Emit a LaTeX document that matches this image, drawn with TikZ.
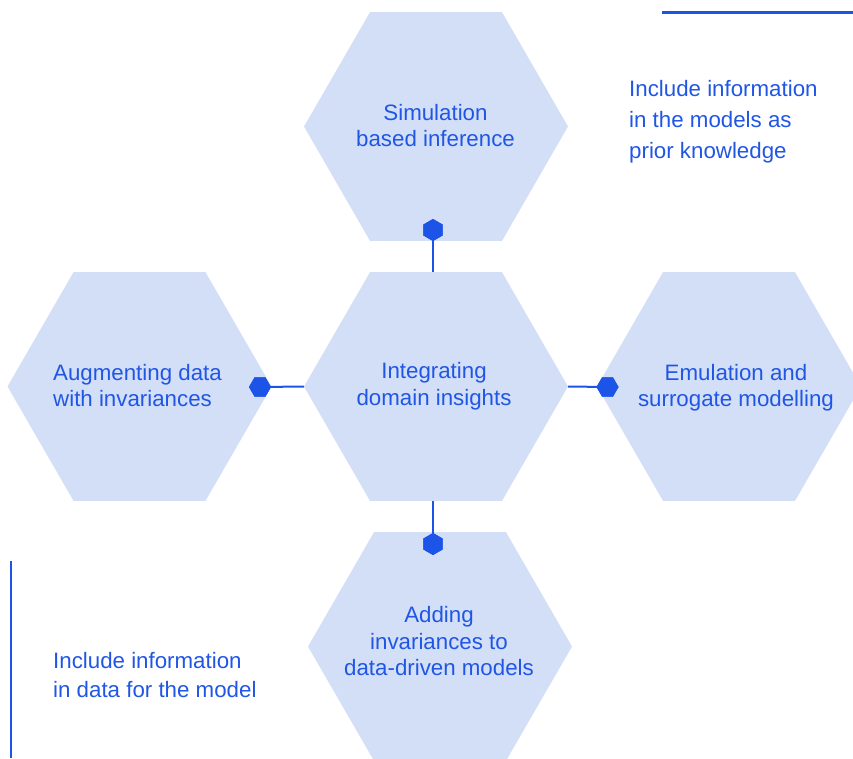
\documentclass[tikz,border=0pt]{standalone}
\usepackage{fontspec}
\setmainfont{Liberation Sans}
\usetikzlibrary{shapes.geometric}
\definecolor{hexfill}{RGB}{211,222,247}
\definecolor{ink}{RGB}{32,86,228}
\definecolor{dotc}{RGB}{29,84,232}
\begin{document}
\begin{tikzpicture}[x=1pt,y=-1pt,
  hexbox/.style={regular polygon, regular polygon sides=6, minimum size=264pt, inner sep=0pt, outer sep=0pt, fill=hexfill, draw=none},
  dotv/.style={regular polygon, regular polygon sides=6, shape border rotate=90, minimum size=22pt, inner sep=0pt, outer sep=0pt, fill=dotc},
  doth/.style={regular polygon, regular polygon sides=6, minimum size=22pt, inner sep=0pt, outer sep=0pt, fill=dotc},
  link/.style={draw=dotc, line width=2pt},
  rulebar/.style={draw=dotc, line width=2.4pt},
  hextext/.style={text=ink, font=\fontsize{22.3}{26.5}\selectfont, inner sep=0pt, anchor=base, align=center},
  note/.style={text=ink, inner sep=0pt, anchor=base west, align=left},
]
\useasboundingbox (0,0) rectangle (853,758);
\clip (0,0) rectangle (853,758);

% hexagons
\node[hexbox] (T) at (436,126.5) {};
\node[hexbox] (C) at (436,386.5) {};
\node[hexbox] (L) at (139.5,386.5) {};
\node[hexbox] (R) at (729,386.5) {};
\node[hexbox] (B) at (440,646.5) {};

% connector dots
\node[dotv] (dT) at (433,230) {};
\node[dotv] (dB) at (433,544) {};
\node[doth] (dL) at (260,387) {};
\node[doth] (dR) at (607.5,387) {};

% connectors
\draw[link] (dT.center) -- (dT.center |- C.north);
\draw[link] (dB.center) -- (dB.center |- C.south);
\draw[link] (dL.center) -- (C.west);
\draw[link] (C.east) -- (dR.center);

% redraw dots on top
\node[dotv] at (dT.center) {};
\node[dotv] at (dB.center) {};
\node[doth] at (dL.center) {};
\node[doth] at (dR.center) {};

% hexagon texts (anchor = baseline of last line)
\node[hextext] (tT) at (435.5,146.5) {Simulation\\based inference};
\node[hextext] (tC) at (434,405) {Integrating\\domain insights};
\node[hextext, anchor=base west, align=left] (tL) at (53,406.7) {Augmenting data\\with invariances};
\node[hextext] (tR) at (736,406.7) {Emulation and\\surrogate modelling};
\node[hextext] (tB) at (439,675.7) {Adding\\invariances to\\data-driven models};

% side notes and rules
\coordinate (r1a) at (662,12.3);
\coordinate (r1b) at (853,12.3);
\draw[rulebar] (r1a) -- (r1b);
\coordinate (r2a) at (11,561);
\coordinate (r2b) at (11,758);
\draw[rulebar] (r2a) -- (r2b);
\node[note, font=\fontsize{22.3}{31}\selectfont] (nTop) at (629,158.3) {Include information\\in the models as\\prior knowledge};
\node[note, font=\fontsize{22.3}{29}\selectfont] (nBot) at (53,697.3) {Include information\\in data for the model};
\end{tikzpicture}
\end{document}
